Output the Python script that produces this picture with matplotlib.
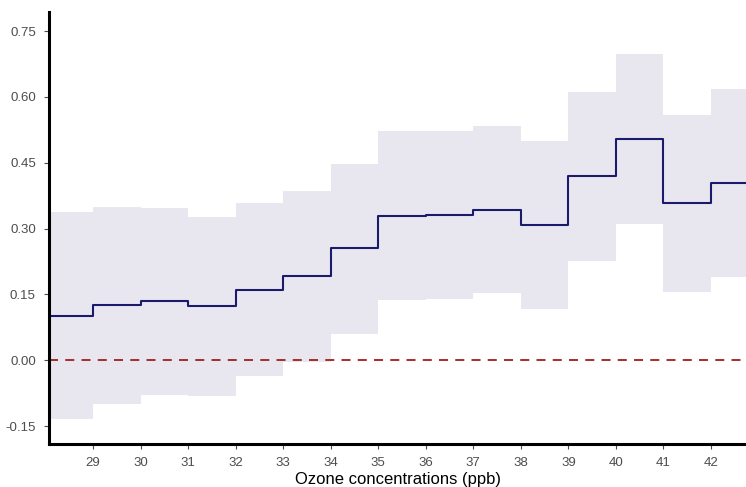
import numpy as np
import matplotlib.pyplot as plt

plt.rcParams['font.family'] = ['Liberation Sans', 'DejaVu Sans']

# ozone bins (ppb), effect estimate and confidence band
ozone = [28, 29, 30, 31, 32, 33, 34, 35, 36, 37, 38, 39, 40, 41, 42]
estimate = [0.100, 0.125, 0.134, 0.123, 0.160, 0.191, 0.255, 0.328, 0.330,
            0.342, 0.308, 0.419, 0.504, 0.358, 0.403]
upper = [0.337, 0.349, 0.346, 0.326, 0.358, 0.385, 0.447, 0.522, 0.522,
         0.533, 0.499, 0.611, 0.697, 0.558, 0.618]
lower = [-0.134, -0.100, -0.079, -0.081, -0.036, -0.005, 0.061, 0.137, 0.139,
         0.153, 0.116, 0.226, 0.310, 0.155, 0.189]

# close the last step one unit to the right
x = np.append(ozone, ozone[-1] + 1)
est = np.append(estimate, estimate[-1])
up = np.append(upper, upper[-1])
lo = np.append(lower, lower[-1])

fig = plt.figure(figsize=(7.46, 4.87), dpi=100)
ax = fig.add_axes([0.0657, 0.088, 0.9343, 0.887])

ax.fill_between(x, lo, up, step='post', color='#e8e7f0', linewidth=0)
ax.step(x, est, where='post', color='#1b1b6b', linewidth=1.5)
ax.axhline(0, color='#a11d1d', linestyle=(0, (5, 4)), linewidth=1.3)

ax.set_xlim(28.075, 42.736)
ax.set_ylim(-0.191, 0.793)
ax.set_xticks(range(29, 43))
ax.set_yticks([-0.15, 0.0, 0.15, 0.30, 0.45, 0.60, 0.75])
ax.set_yticklabels(['-0.15', '0.00', '0.15', '0.30', '0.45', '0.60', '0.75'])

for side in ['top', 'right']:
    ax.spines[side].set_visible(False)
for side in ['left', 'bottom']:
    ax.spines[side].set_linewidth(2.2)
    ax.spines[side].set_color('black')

ax.tick_params(axis='both', length=3.5, width=0.8, color='#4d4d4d',
               labelcolor='#4d4d4d', labelsize=9.5)
ax.tick_params(axis='y', pad=6)
ax.tick_params(axis='x', pad=6)
ax.set_xlabel('Ozone concentrations (ppb)', fontsize=12, color='black', labelpad=2)

fig.savefig('out.png', dpi=100)
